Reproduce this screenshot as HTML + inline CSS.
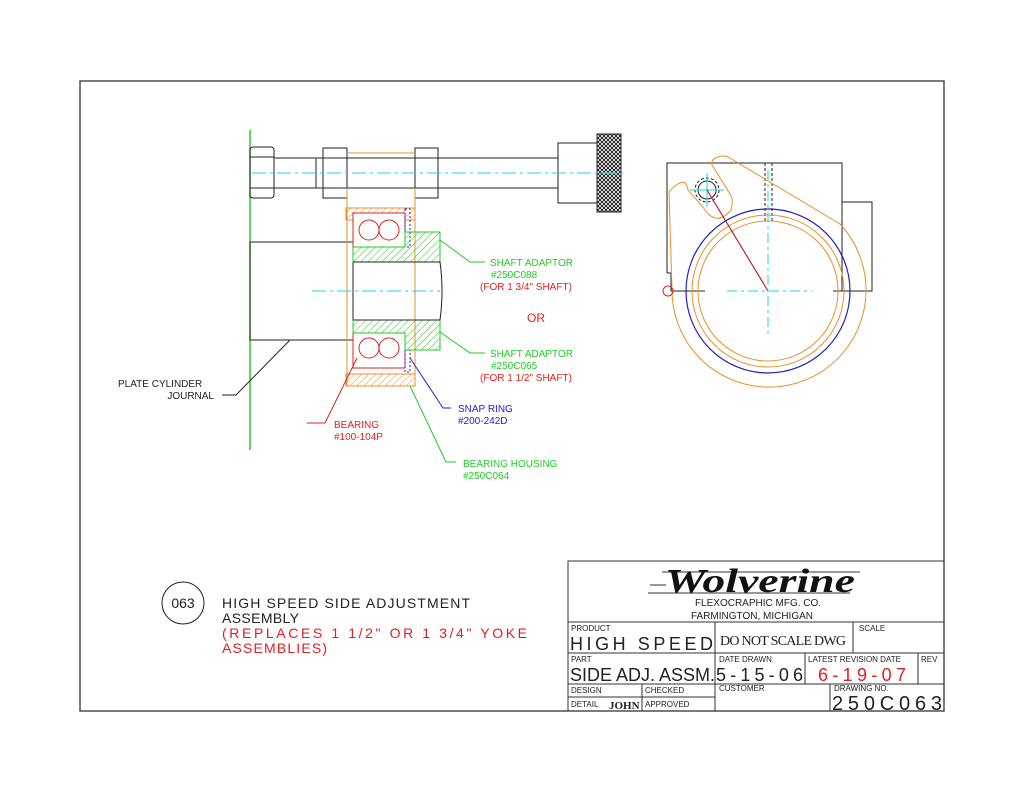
<!DOCTYPE html>
<html><head><meta charset="utf-8"><style>
html,body{margin:0;padding:0;background:#fff;}
svg{display:block;font-family:"Liberation Sans","DejaVu Sans",sans-serif;}
.t{font-size:10px;}
</style></head><body>
<svg width="1024" height="791" viewBox="0 0 1024 791" xmlns="http://www.w3.org/2000/svg">
<defs>
<pattern id="ho" width="5" height="5" patternUnits="userSpaceOnUse" patternTransform="rotate(45)"><line x1="0" y1="0" x2="0" y2="5" stroke="#e8902a" stroke-width="1"/></pattern>
<pattern id="hg" width="5" height="5" patternUnits="userSpaceOnUse" patternTransform="rotate(45)"><line x1="0" y1="0" x2="0" y2="5" stroke="#22cc22" stroke-width="1"/></pattern>
<pattern id="kn" width="4" height="4" patternUnits="userSpaceOnUse"><path d="M0 0L4 4M4 0L0 4" stroke="#000" stroke-width="0.8"/></pattern>
</defs>
<rect x="80" y="81" width="864" height="630" fill="none" stroke="#333" stroke-width="1.3"/>

<!-- side view -->
<line x1="250" y1="130" x2="250" y2="450" stroke="#22cc22" stroke-width="1.5"/>
<rect x="250" y="242" width="103" height="98" fill="none" stroke="#222"/>
<rect x="274" y="158" width="284" height="30" fill="none" stroke="#222"/>
<line x1="316" y1="158" x2="316" y2="188" stroke="#222"/>
<rect x="250" y="147" width="24" height="51" rx="3" fill="none" stroke="#222"/>
<line x1="250" y1="157" x2="274" y2="157" stroke="#222"/><line x1="250" y1="188" x2="274" y2="188" stroke="#222"/>
<rect x="323" y="148" width="24" height="50" fill="none" stroke="#222"/>
<rect x="415" y="148" width="23" height="50" fill="none" stroke="#222"/>
<line x1="347" y1="153" x2="415" y2="153" stroke="#e8902a"/>
<rect x="558" y="143" width="39" height="60" fill="none" stroke="#222"/>
<rect x="597" y="134" width="24" height="78" fill="url(#kn)" stroke="#222"/>
<line x1="252" y1="173" x2="625" y2="173" stroke="#22d0e0" stroke-dasharray="14,4,3,4"/>
<line x1="347" y1="188" x2="347" y2="386" stroke="#e8902a"/>
<line x1="415" y1="188" x2="415" y2="386" stroke="#e8902a"/>
<rect x="346" y="208" width="69" height="12" fill="url(#ho)" stroke="#e8902a"/>
<rect x="346" y="374" width="69" height="12" fill="url(#ho)" stroke="#e8902a"/>
<rect x="353" y="213" width="52" height="34" fill="#fff" stroke="#e02020"/>
<circle cx="369" cy="230" r="10" fill="none" stroke="#e02020"/><circle cx="389" cy="230" r="10" fill="none" stroke="#e02020"/>
<rect x="353" y="333" width="52" height="35" fill="#fff" stroke="#e02020"/>
<circle cx="369" cy="348" r="10" fill="none" stroke="#e02020"/><circle cx="389" cy="348" r="10" fill="none" stroke="#e02020"/>
<rect x="405" y="209" width="5" height="38" fill="none" stroke="#2020d0" stroke-dasharray="2,2"/>
<rect x="405" y="350" width="5" height="22" fill="none" stroke="#2020d0" stroke-dasharray="2,2"/>
<path d="M405 232H440V262H353V247H405Z" fill="url(#hg)" stroke="#22cc22"/>
<path d="M353 320H440V350H405V333H353Z" fill="url(#hg)" stroke="#22cc22"/>
<path d="M353 262H440Q444 291 440 320H353" fill="none" stroke="#222"/>
<line x1="312" y1="291" x2="440" y2="291" stroke="#22d0e0" stroke-dasharray="14,4,3,4"/>
<g fill="none" stroke-width="1">
<path d="M440 240L470 262H485" stroke="#22cc22"/>
<path d="M440 332L470 353H485" stroke="#22cc22"/>
<path d="M222 395H236L290 340" stroke="#222"/>
<path d="M307 423H325L357 358" stroke="#e02020"/>
<path d="M451 408H443L410 358" stroke="#2020d0"/>
<path d="M456 462H446L410 386" stroke="#22cc22"/>
</g>
<g class="t">
<text x="490" y="266" fill="#22cc22">SHAFT ADAPTOR</text>
<text x="491" y="278" fill="#22cc22">#250C088</text>
<text x="480" y="290" fill="#e02020">(FOR 1 3/4" SHAFT)</text>
<text x="527" y="322" fill="#e02020" font-size="12">OR</text>
<text x="490" y="357" fill="#22cc22">SHAFT ADAPTOR</text>
<text x="491" y="369" fill="#22cc22">#250C065</text>
<text x="480" y="381" fill="#e02020">(FOR 1 1/2" SHAFT)</text>
<text x="118" y="387" fill="#222">PLATE CYLINDER</text>
<text x="214" y="399" fill="#222" text-anchor="end">JOURNAL</text>
<text x="334" y="428" fill="#e02020">BEARING</text>
<text x="334" y="440" fill="#e02020">#100-104P</text>
<text x="458" y="412" fill="#2020d0">SNAP RING</text>
<text x="458" y="424" fill="#2020d0">#200-242D</text>
<text x="463" y="467" fill="#22cc22">BEARING HOUSING</text>
<text x="463" y="479" fill="#22cc22">#250C064</text>
</g>

<!-- end view -->
<g fill="none">
<path d="M667 273V163H842V291H833" stroke="#222"/>
<path d="M667 273H671V291H705" stroke="#222"/>
<path d="M842 202H872V291H842" stroke="#222"/>
<line x1="765" y1="163" x2="765" y2="223" stroke="#222" stroke-dasharray="3,2"/>
<line x1="772" y1="163" x2="772" y2="223" stroke="#222" stroke-dasharray="3,2"/>
<circle cx="768" cy="291" r="82" stroke="#2020c0" stroke-width="1.2"/>
<circle cx="768" cy="291" r="76" stroke="#e8902a"/>
<circle cx="768" cy="291" r="70" stroke="#e8902a"/>
<path d="M672 290L669 192Q675 184 683 182Q687 183 688 190L703 207Q716 228 731 210Q734 200 730 194L712 165Q711 159 718 157Q723 155 728 157L840 224A97 97 0 1 1 672 290Z" stroke="#e8902a"/>
<circle cx="707" cy="190" r="12" stroke="#222" stroke-dasharray="3,2"/>
<circle cx="707" cy="190" r="9" stroke="#222"/>
<line x1="690" y1="190" x2="724" y2="190" stroke="#22d0e0"/>
<line x1="707" y1="173" x2="707" y2="207" stroke="#22d0e0"/>
<line x1="707" y1="190" x2="768" y2="291" stroke="#c02030" stroke-width="1.2"/>
<line x1="727" y1="291" x2="812" y2="291" stroke="#22d0e0" stroke-dasharray="10,4,3,4"/>
<line x1="768" y1="170" x2="768" y2="335" stroke="#22d0e0" stroke-dasharray="10,4,3,4"/>
<circle cx="668" cy="291" r="5" stroke="#e02020"/>
</g>

<circle cx="183" cy="603" r="21" fill="none" stroke="#222"/>
<text x="183" y="608" text-anchor="middle" font-size="14" fill="#222">063</text>
<g font-size="14">
<text x="222" y="608" fill="#222" textLength="248">HIGH SPEED SIDE ADJUSTMENT</text>
<text x="222" y="623" fill="#222" textLength="77">ASSEMBLY</text>
<text x="222" y="638" fill="#e02020" textLength="305">(REPLACES 1 1/2" OR 1 3/4" YOKE</text>
<text x="222" y="653" fill="#e02020" textLength="105">ASSEMBLIES)</text>
</g>

<g fill="none" stroke="#333" stroke-width="1">
<rect x="568" y="561" width="376" height="150"/>
<line x1="568" y1="622" x2="944" y2="622"/>
<line x1="568" y1="653" x2="944" y2="653"/>
<line x1="568" y1="684" x2="944" y2="684"/>
<line x1="568" y1="697" x2="715" y2="697"/>
<line x1="715" y1="622" x2="715" y2="711"/>
<line x1="853" y1="622" x2="853" y2="653"/>
<line x1="805" y1="653" x2="805" y2="684"/>
<line x1="918" y1="653" x2="918" y2="684"/>
<line x1="642" y1="684" x2="642" y2="711"/>
<line x1="830" y1="684" x2="830" y2="711"/>
<line x1="662" y1="572" x2="860" y2="572"/>
<line x1="650" y1="585" x2="666" y2="585"/>
<line x1="648" y1="593" x2="850" y2="593"/>
</g>
<text x="665" y="592" font-family="Liberation Serif,serif" font-style="italic" font-weight="bold" font-size="34" fill="#111" textLength="190" lengthAdjust="spacingAndGlyphs">Wolverine</text>
<text x="758" y="606" text-anchor="middle" font-size="10" fill="#222">FLEXOCRAPHIC MFG. CO.</text>
<text x="752" y="619" text-anchor="middle" font-size="10" fill="#222">FARMINGTON, MICHIGAN</text>
<g font-size="8" fill="#222">
<text x="571" y="631">PRODUCT</text>
<text x="859" y="631">SCALE</text>
<text x="571" y="662">PART</text>
<text x="719" y="662">DATE DRAWN</text>
<text x="808" y="662">LATEST REVISION DATE</text>
<text x="921" y="662">REV</text>
<text x="571" y="693">DESIGN</text>
<text x="645" y="693">CHECKED</text>
<text x="719" y="691">CUSTOMER</text>
<text x="834" y="691">DRAWING NO.</text>
<text x="571" y="707">DETAIL</text>
<text x="645" y="707">APPROVED</text>
</g>
<g font-size="18" fill="#222" font-weight="lighter">
<text x="570" y="650" textLength="143">HIGH SPEED</text>
<text x="570" y="681" textLength="145">SIDE ADJ. ASSM.</text>
<text x="716" y="681" textLength="87">5-15-06</text>
<text x="818" y="681" fill="#e02020" textLength="88">6-19-07</text>
<text x="832" y="710" font-size="20" textLength="110">250C063</text>
</g>
<text x="720" y="645" font-family="Liberation Serif,serif" font-size="14" fill="#222" textLength="126">DO NOT SCALE DWG</text>
<text x="609" y="709" font-family="Liberation Serif,serif" font-weight="bold" font-size="11" fill="#222">JOHN</text>
</svg>
</body></html>
